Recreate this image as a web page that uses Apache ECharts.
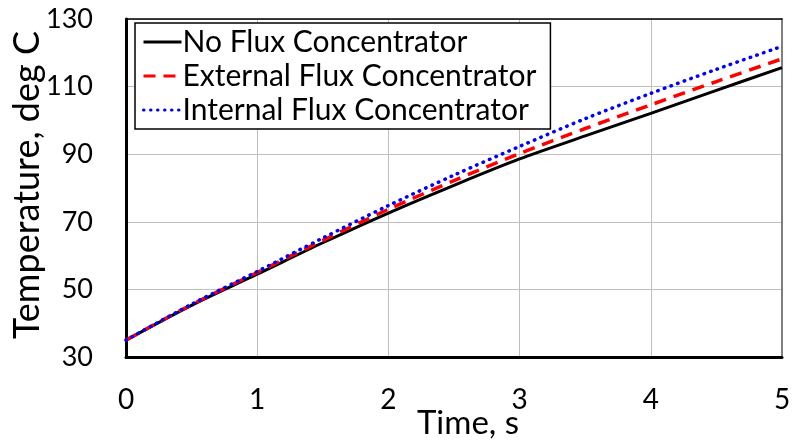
<!DOCTYPE html>
<html>
<head>
<meta charset="utf-8">
<script src="https://cdn.jsdelivr.net/npm/echarts@6/dist/echarts.min.js"></script>
<style>
  html, body { margin: 0; padding: 0; background: #fff; }
  #chart { width: 793px; height: 444px; }
</style>
</head>
<body>
<div id="chart"></div>
<script>
// Heating curves: temperature (deg C) against time (s)
const times = [0, 0.5, 1, 1.5, 2, 2.5, 3, 3.5, 4, 4.5, 5];
const noFlux = [35, 45.3, 54.5, 63.8, 72.6, 80.8, 88.6, 95.4, 102.1, 108.9, 115.6];
const externalFlux = [35, 45.5, 55.0, 64.5, 73.7, 82.2, 90.2, 97.6, 104.6, 111.5, 118.2];
const internalFlux = [35, 45.6, 55.3, 65.2, 74.8, 83.8, 92.3, 100.5, 108.0, 115.1, 121.9];
const seriesNames = ['No Flux Concentrator', 'External Flux Concentrator', 'Internal Flux Concentrator'];
const xTicks = [0, 1, 2, 3, 4, 5];
const yTicks = [30, 50, 70, 90, 110, 130];
const xTitle = 'Time, s';
const yTitle = 'Temperature, deg C';

const FONT = 'Lato';
const pair = (ys) => times.map((t, i) => [t, ys[i]]);

const chart = echarts.init(document.getElementById('chart'), null, { renderer: 'canvas' });
chart.setOption({
  animation: false,
  backgroundColor: '#fff',
  textStyle: { fontFamily: FONT },
  grid: { left: 126, right: 11, top: 19, bottom: 87, containLabel: false, outerBoundsMode: 'none' },
  legend: {
    orient: 'vertical',
    left: 135, top: 23,
    padding: [4, 14, 4, 7],
    itemGap: 4,
    itemWidth: 38, itemHeight: 14,
    backgroundColor: '#fff',
    borderColor: '#000', borderWidth: 1.5,
    itemStyle: { opacity: 0 },
    lineStyle: { width: 3 },
    textStyle: { fontFamily: FONT, fontSize: 30, color: '#000', padding: [0, 0, 0, -4] },
    data: seriesNames
  },
  graphic: [{
    type: 'text', x: 468, y: 423, silent: true,
    style: { text: xTitle, fontFamily: FONT, fontSize: 33, fill: '#000', align: 'center', verticalAlign: 'middle' }
  }, {
    type: 'text', x: 27, y: 185, rotation: Math.PI / 2, silent: true,
    style: { text: yTitle, fontFamily: FONT, fontSize: 36, fill: '#000', align: 'center', verticalAlign: 'middle' }
  }],
  xAxis: [{
    type: 'value', min: xTicks[0], max: xTicks[xTicks.length - 1], interval: 1,
    axisLine: { show: true, onZero: false, lineStyle: { color: '#000', width: 3 } },
    axisTick: { show: false },
    axisLabel: { fontFamily: FONT, fontSize: 28, color: '#000', margin: 29 },
    splitLine: { show: true, lineStyle: { color: '#bfbfbf', width: 1 } }
  }, {
    type: 'value', position: 'top', min: xTicks[0], max: xTicks[xTicks.length - 1],
    axisLine: { show: true, onZero: false, lineStyle: { color: '#000', width: 1.5 } },
    axisTick: { show: false }, axisLabel: { show: false }, splitLine: { show: false }
  }],
  yAxis: [{
    type: 'value', min: yTicks[0], max: yTicks[yTicks.length - 1], interval: 20,
    axisLine: { show: true, onZero: false, lineStyle: { color: '#000', width: 3 } },
    axisTick: { show: false },
    axisLabel: { fontFamily: FONT, fontSize: 27, color: '#000', margin: 33, align: 'right' },
    splitLine: { show: true, lineStyle: { color: '#bfbfbf', width: 1 } }
  }, {
    type: 'value', position: 'right', min: yTicks[0], max: yTicks[yTicks.length - 1],
    axisLine: { show: true, onZero: false, lineStyle: { color: '#7f7f7f', width: 2 } },
    axisTick: { show: false }, axisLabel: { show: false }, splitLine: { show: false }
  }],
  series: [{
    name: seriesNames[0], type: 'line', data: pair(noFlux), smooth: 0.3,
    symbol: 'none', color: '#000',
    lineStyle: { color: '#000', width: 3, type: 'solid' }, z: 3
  }, {
    name: seriesNames[1], type: 'line', data: pair(externalFlux), smooth: 0.3,
    symbol: 'none', color: '#ff0000',
    lineStyle: { color: '#ff0000', width: 3.5, type: [12, 8] }, z: 4
  }, {
    name: seriesNames[2], type: 'line', data: pair(internalFlux), smooth: 0.3,
    symbol: 'none', color: '#0000ff',
    lineStyle: { color: '#0000ff', width: 3.5, type: [0.5, 6.5], cap: 'round' }, z: 5
  }]
});
</script>
</body>
</html>
